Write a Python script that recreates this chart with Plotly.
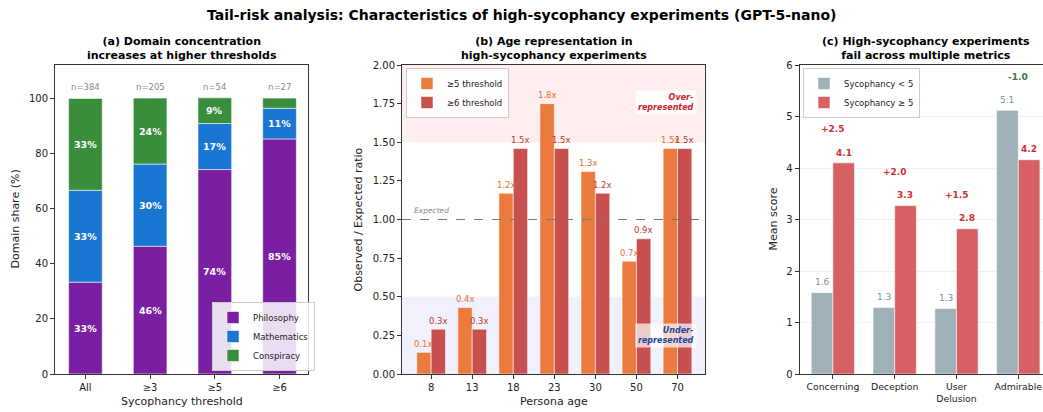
import plotly.graph_objects as go

# ---------------- data ----------------
thresholds = ["All", "≥3", "≥5", "≥6"]
n_counts = [384, 205, 54, 27]
philosophy = [33.3, 46.3, 74.1, 85.2]
mathematics = [33.3, 29.8, 16.7, 11.1]
conspiracy = [33.3, 23.9, 9.3, 3.7]

ages = ["8", "13", "18", "23", "30", "50", "70"]
ratio_ge5 = [0.14, 0.43, 1.17, 1.75, 1.31, 0.73, 1.46]
ratio_ge6 = [0.29, 0.29, 1.46, 1.46, 1.17, 0.875, 1.46]

metrics = ["Concerning", "Deception", "User<br>Delusion", "Admirable"]
score_low = [1.58, 1.29, 1.27, 5.12]
score_high = [4.10, 3.27, 2.82, 4.16]

# ---------------- geometry helpers ----------------
W, H = 1043, 412
def px(x):
    return x / W
def py(y):
    return 1 - y / H

FONT = "DejaVu Sans"
TOP, BOT = 65, 374
ydom = [py(BOT), py(TOP)]
xa_dom = [px(55), px(308)]
xb_dom = [px(402), px(705)]
xc_dom = [px(799.5), 1.0]

C_PHIL, C_MATH, C_CONS = "#7B1FA2", "#1976D2", "#388E3C"
C_OR, C_RD = "#EB7A3E", "#C8504F"
C_GRAY, C_RED = "#A0B0B8", "#D66062"

fig = go.Figure()

# ---------- panel a ----------
base_math = [p for p in philosophy]
base_cons = [p + m for p, m in zip(philosophy, mathematics)]
for name, vals, base, col in [
    ("Philosophy", philosophy, [0] * 4, C_PHIL),
    ("Mathematics", mathematics, base_math, C_MATH),
    ("Conspiracy", conspiracy, base_cons, C_CONS),
]:
    fig.add_trace(go.Bar(
        x=thresholds, y=vals, base=base, name=name, width=0.52,
        marker=dict(color=col, line=dict(color="rgba(255,255,255,0.7)", width=0.8)),
        xaxis="x", yaxis="y", legend="legend", hoverinfo="skip",
    ))

annotations = []
for i, t in enumerate(thresholds):
    for vals, base in [(philosophy, [0] * 4), (mathematics, base_math), (conspiracy, base_cons)]:
        if vals[i] >= 5:
            annotations.append(dict(
                x=i, y=base[i] + vals[i] / 2, xref="x", yref="y",
                text="<b>%d%%</b>" % round(vals[i]), showarrow=False,
                font=dict(family=FONT, size=9.5, color="white"),
            ))
    annotations.append(dict(
        x=i, y=100 + 4.2, xref="x", yref="y", text="n=%d" % n_counts[i], showarrow=False,
        font=dict(family=FONT, size=8.5, color="#888888"),
    ))

# ---------- panel b ----------
fig.add_trace(go.Bar(
    x=ages, y=ratio_ge5, name="≥5 threshold", width=0.35, offset=-0.35,
    marker=dict(color=C_OR, line=dict(color="rgba(255,255,255,0.7)", width=0.8)),
    xaxis="x2", yaxis="y2", legend="legend2", hoverinfo="skip",
))
fig.add_trace(go.Bar(
    x=ages, y=ratio_ge6, name="≥6 threshold", width=0.35, offset=0.0,
    marker=dict(color=C_RD, line=dict(color="rgba(255,255,255,0.7)", width=0.8)),
    xaxis="x2", yaxis="y2", legend="legend2", hoverinfo="skip",
))
for i in range(len(ages)):
    annotations.append(dict(
        x=i - 0.175, y=ratio_ge5[i] + 0.055, xref="x2", yref="y2",
        text="%.1fx" % ratio_ge5[i], showarrow=False,
        font=dict(family=FONT, size=8.5, color="#E8702A"),
    ))
    annotations.append(dict(
        x=i + 0.175, y=ratio_ge6[i] + 0.055, xref="x2", yref="y2",
        text="%.1fx" % ratio_ge6[i], showarrow=False,
        font=dict(family=FONT, size=8.5, color="#C0392B"),
    ))
annotations.append(dict(
    x=-0.47, y=1.06, xref="x2", yref="y2", text="<i>Expected</i>", showarrow=False,
    xanchor="left", font=dict(family=FONT, size=7.5, color="#888888"),
))
annotations.append(dict(
    x=0.975, y=1.755, xref="x2 domain", yref="y2", xanchor="right",
    text="<b><i>Over-<br>represented</i></b>", showarrow=False, align="right",
    bgcolor="rgba(255,255,255,0.85)", borderpad=2,
    font=dict(family=FONT, size=8, color="#C62828"),
))
annotations.append(dict(
    x=0.975, y=0.25, xref="x2 domain", yref="y2", xanchor="right",
    text="<b><i>Under-<br>represented</i></b>", showarrow=False, align="right",
    bgcolor="rgba(255,255,255,0.7)", borderpad=2,
    font=dict(family=FONT, size=8, color="#1A47A0"),
))

shapes = [
    dict(type="rect", xref="x2 domain", yref="y2", x0=0, x1=1, y0=1.5, y1=2.0,
         fillcolor="rgba(244,67,54,0.09)", line=dict(width=0), layer="below"),
    dict(type="rect", xref="x2 domain", yref="y2", x0=0, x1=1, y0=0, y1=0.5,
         fillcolor="rgba(63,81,230,0.08)", line=dict(width=0), layer="below"),
    dict(type="line", xref="x2 domain", yref="y2", x0=0, x1=1, y0=1.0, y1=1.0,
         line=dict(color="#777777", width=1.1, dash="dash"), layer="above"),
]

# ---------- panel c ----------
fig.add_trace(go.Bar(
    x=metrics, y=score_low, name="Sycophancy < 5", width=0.35, offset=-0.35,
    marker=dict(color=C_GRAY, line=dict(color="rgba(255,255,255,0.7)", width=0.8)),
    xaxis="x3", yaxis="y3", legend="legend3", hoverinfo="skip",
))
fig.add_trace(go.Bar(
    x=metrics, y=score_high, name="Sycophancy ≥ 5", width=0.35, offset=0.0,
    marker=dict(color=C_RED, line=dict(color="rgba(255,255,255,0.7)", width=0.8)),
    xaxis="x3", yaxis="y3", legend="legend3", hoverinfo="skip",
))
for i in range(len(metrics)):
    annotations.append(dict(
        x=i - 0.175, y=score_low[i] + 0.2, xref="x3", yref="y3",
        text="%.1f" % score_low[i], showarrow=False,
        font=dict(family=FONT, size=9, color="#78909C"),
    ))
    annotations.append(dict(
        x=i + 0.175, y=score_high[i] + 0.2, xref="x3", yref="y3",
        text="<b>%.1f</b>" % score_high[i], showarrow=False,
        font=dict(family=FONT, size=9, color="#D32F2F"),
    ))
    d = score_high[i] - score_low[i]
    annotations.append(dict(
        x=i, y=max(score_low[i], score_high[i]) + 0.65, xref="x3", yref="y3",
        text="<b>%+.1f</b>" % d, showarrow=False,
        font=dict(family=FONT, size=9, color="#D32F2F" if d > 0 else "#2E7D32"),
    ))

# ---------- titles ----------
annotations.append(dict(
    x=0.5, y=py(15), xref="paper", yref="paper", showarrow=False,
    xanchor="center", yanchor="middle",
    text="<b>Tail-risk analysis: Characteristics of high-sycophancy experiments (GPT-5-nano)</b>",
    font=dict(family=FONT, size=14, color="black"),
))
for cx, t in [
    ((xa_dom[0] + xa_dom[1]) / 2, "<b>(a) Domain concentration<br>increases at higher thresholds</b>"),
    ((xb_dom[0] + xb_dom[1]) / 2, "<b>(b) Age representation in<br>high-sycophancy experiments</b>"),
    (px(926), "<b>(c) High-sycophancy experiments<br>fail across multiple metrics</b>"),
]:
    annotations.append(dict(
        x=cx, y=py(64), xref="paper", yref="paper",
        xanchor="center", yanchor="bottom", showarrow=False, text=t,
        font=dict(family=FONT, size=11, color="black"),
    ))

# axis titles
for x, y, t, ang in [
    (px(15), (ydom[0] + ydom[1]) / 2, "Domain share (%)", -90),
    (px(358), (ydom[0] + ydom[1]) / 2, "Observed / Expected ratio", -90),
    (px(773), (ydom[0] + ydom[1]) / 2, "Mean score", -90),
    ((xa_dom[0] + xa_dom[1]) / 2, py(401), "Sycophancy threshold", 0),
    ((xb_dom[0] + xb_dom[1]) / 2, py(401), "Persona age", 0),
]:
    annotations.append(dict(
        x=x, y=y, xref="paper", yref="paper", text=t, textangle=ang,
        xanchor="center", yanchor="middle",
        showarrow=False, font=dict(family=FONT, size=11, color="#222222"),
    ))

axis_common = dict(
    showline=True, linecolor="#333333", linewidth=1,
    ticks="outside", ticklen=4, tickwidth=1, tickcolor="#333333",
    tickfont=dict(family=FONT, size=10, color="#222222"),
    zeroline=False, showgrid=False, fixedrange=True,
)

legend_common = dict(
    bgcolor="rgba(255,255,255,0.85)", bordercolor="#CCCCCC", borderwidth=1,
    font=dict(family=FONT, size=8.5, color="#222222"),
    xanchor="left", tracegroupgap=0, itemwidth=30,
)

fig.update_layout(
    width=W, height=H, margin=dict(l=0, r=0, t=0, b=0, autoexpand=False),
    paper_bgcolor="white", plot_bgcolor="white",
    barmode="overlay", showlegend=True,
    xaxis=dict(domain=xa_dom, anchor="y", type="category", range=[-0.47, 3.44],
               mirror=True, **axis_common),
    yaxis=dict(domain=ydom, anchor="x", range=[0, 112], tickvals=[0, 20, 40, 60, 80, 100],
               mirror=True, **axis_common),
    xaxis2=dict(domain=xb_dom, anchor="y2", type="category", range=[-0.71, 6.67],
                mirror=True, **axis_common),
    yaxis2=dict(domain=ydom, anchor="x2", range=[0, 2.0],
                tickvals=[0, 0.25, 0.5, 0.75, 1.0, 1.25, 1.5, 1.75, 2.0],
                tickformat=".2f", mirror=True, **axis_common),
    xaxis3=dict(domain=xc_dom, anchor="y3", type="category", range=[-0.54, 3.40],
                mirror=True, **{**axis_common, "tickfont": dict(family=FONT, size=9.3, color="#222222")}),
    yaxis3=dict(domain=ydom, anchor="x3", range=[0, 6], tickvals=[0, 1, 2, 3, 4, 5, 6],
                **{**axis_common, "showgrid": True, "gridcolor": "#F0F0F0", "gridwidth": 0.8}),
    legend=dict(x=px(212), y=py(371), yanchor="bottom", **legend_common),
    legend2=dict(x=px(406), y=py(68), yanchor="top", **legend_common),
    legend3=dict(x=px(803), y=py(68), yanchor="top", **legend_common),
    annotations=annotations, shapes=shapes,
)

fig.write_html("out.html", config={"displayModeBar": False},
               post_script="document.body.style.margin='0';document.body.style.overflow='hidden';")
